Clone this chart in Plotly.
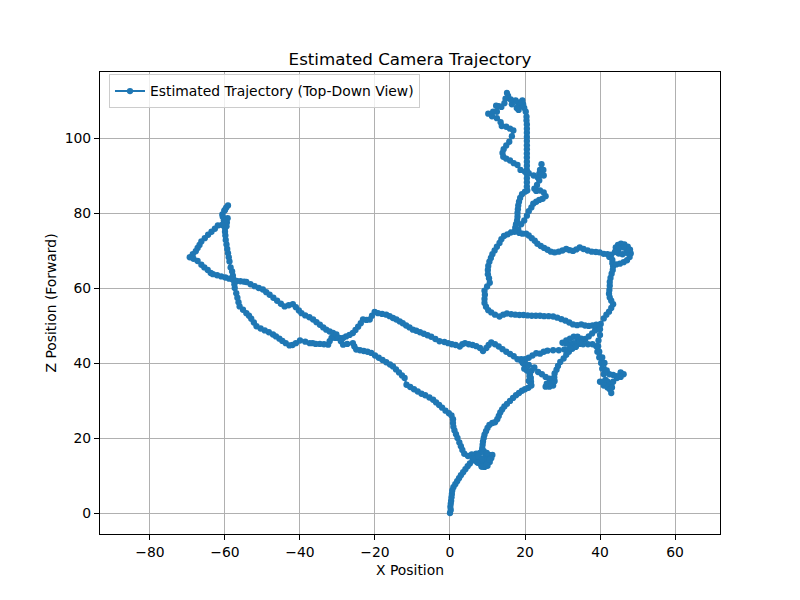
import plotly.graph_objects as go

TITLE = "Estimated Camera Trajectory"
X_LABEL = "X Position"
Z_LABEL = "Z Position (Forward)"
SERIES = "Estimated Trajectory (Top-Down View)"
X_TICKS = [-80, -60, -40, -20, 0, 20, 40, 60]
Z_TICKS = [0, 20, 40, 60, 80, 100]

start_leg = [(0,0),(0.2,0.8),(0.1,1.6),(0.2,2.5),(0.3,3.3),(0.4,4.2),(0.5,5.1),(0.6,6),(0.9,6.9),(1.4,7.7),(1.9,8.5),(2.4,9.3),(2.9,10.1),(3.5,10.9),(4.1,11.7),(4.7,12.5),(5.3,13.2),(6,14),
 (7,14.5),(8,13.5),(9,12.7),(8.5,14),(9.5,15),(10.5,15.5),(11.3,15.5),(10.3,14.5),(9.6,13.5),(9.2,12.3),(8.2,13),(7.6,14.5),(8,16),(9,16.5),(9.5,15.5),(8.8,14.5),(7,15.8),(6.2,15),(7.2,13.6),(8.4,12.4),(10,12.6),(10.6,13.6),(11,14.6),(9.8,16),(8.5,16.5)]
to_junction = [(8.6,17.3),(8.7,18.2),(8.8,19.1),(9,20),(9.2,20.9),(9.6,21.8),(10,22.7),(10.5,23.5),(11.3,24),(12,24.2),(12.6,25),(13,25.9),(13.4,26.8),(13.9,27.6),(14.5,28.4),(15.2,29.1),(16,29.9),(16.8,30.7),(17.6,31.4),(18.4,32),(19.2,32.6),(20,33),(20.9,33.4),(21.7,34),(21.6,35),(21.5,36),(21.3,37),(21.8,38),
 (21.2,36.5),(21,35.2),(21.6,34.2),(21.5,36),(21.2,37.5),(20.5,38),(19.8,38.5),(19.4,40),(19,41),(20,40),(21,39.5),(22.5,38.8),(23.5,37.6),(24.5,37),(25.5,36.3),(26.5,35.8),(27.3,35.7),(27.7,35),(27.5,34),(26.5,33.7),(25.5,33.7),(25.8,34.5),(27,34.5),(27.9,35.2),(27.8,36.2),(27.9,37.2),(28.4,38.2),(28.8,39.2),(29.4,40.3),(30.3,41.2),(31,42.2),(31.7,43),(32.6,43.8),(33.6,44.5),(34.5,45.1),(35.3,45.8),(36.1,46.4),(37,47.1),(37.9,47.9),(38.7,48.7),(39.5,49.4),(40.2,50.4)]
up_to_loop = [(41,51.9),(41.7,52.9),(42.4,53.7),(43,54.7),(43.5,55.7),(43,56.6),(42.6,57.5),(42.4,58.5),(42.5,59.5),(42.6,60.6),(42.6,61.6),(42.8,62.7),(43.1,63.8),(43.4,64.8),(43.5,65.8),
 (43.3,66.6),(44.3,66.3),(45.3,66.5),(46.3,66.9),(47.2,67.4),(47.9,68.3),(48.2,69.2),(48,70.2),(47.4,71),(46.5,71.6),(45.6,71.8),(44.8,71.5),(44.2,70.8),(44.2,69.8),(45,69.2),(46,69),(47,69.4),(47.4,70.2),(46.3,70.8),(45,70.5),(44,69.6),(43,68.9),(42.5,68.3),(43.3,67.5),(42,69)]
loop_to_left = [(41,69.1),(39.9,69.5),(38.9,69.6),(37.8,69.7),(36.7,70),(35.6,70.4),(34.6,70.8),(33.7,70.3),(32.8,69.9),(31.9,70.1),(31,70.4),(30,70),(29,69.7),(27.9,69.5),(26.9,69.7),(26,70.2),(25.1,70.7),(24.2,71.2),(23.3,71.8),(22.6,72.6),(21.8,73.3),(21,74),(20.3,74.5),(19.3,74.5),(18.5,74.7),(17.8,75.2),(17.4,76.1),
 (17.6,77),(17.9,78),(18,79),(18,80),(18.1,81),(18.2,82),(18.4,83),(18.7,84),(19.2,85),(20,85.7),(20.6,86)]
vertical = [(20.5,87.1),(20.5,88.2),(20.5,89.3),(20.5,90.4),(20.5,91.5),(20.5,92.6),(20.5,93.7),(20.5,94.8),(20.5,95.9),(20.5,97),(20.5,98.1),(20.5,99.2),(20.5,100.3),(20.5,101.4),(20.5,102.5),(20.5,103.6),(20.4,104.7),(20.4,105.7),(20.2,107),(19.8,108),(19.5,109),(19.3,110),(19,108.5),(18.3,107.5),(18.5,109.5),(17.8,108),(17.5,110),(16.5,109),(16.2,110.3),(15.5,111.2),(15.2,112),(14.8,110.5),(14.5,109.3),(13.7,108.3),(13,108.5),(12.3,108.6),(12.5,107),(11.5,107),(10.2,106.5),(11.2,105.8),(12.5,105.3),(13.5,104.2),(13.8,103.2),(15,103),(16,102.5),(16.9,102),(16.5,100.5),(15.8,99),(15,98),(14.3,97),(14,96),(14.2,95),(15,94.5),(16,94),(17,93.3),(18,92.8),(18.8,91.5),(20,91),(21,90.6),(22.3,90),(23.4,89.5),(23.8,90.5),(24,91.5),(24.4,93),(24.9,91.5),(25,90),(24.3,90.2),(23.8,88.7),(23.2,87.5),(22.5,86.5)]
hook_back = [(23,85.9),(24,86),(25,85.5),(25.5,84.5),(24.7,83.8),(23.8,83.5),(23,83),(22.2,82.5),(21.7,81.5),(21,80.5),(20.5,79.3),(19.8,78),(19,77),(18.2,75.6),(17.2,75),(16.2,74.8),(15.3,74.3),(14.4,73.9),(13.7,73),(13.2,72),(12.5,71),(11.9,70),(11.3,69),(10.9,68),(10.5,67),(10.2,65.9),(10.1,64.8),(10.1,63.7),(10.4,62.6),(10.6,61.4),(9.9,60.4),(9.2,59.3),(9.3,58.2),(9.2,57.1),(9.2,56),(9.6,55),(10.2,54.1),(11,53.5),(12,52.9),(13.2,52.4),(14.2,52.9),(15.2,53.2),(16.3,53),(17.4,52.9),(18.5,52.8),(19.6,52.8),(20.7,52.7),(21.8,52.6),(22.9,52.6),(24,52.6),(25.1,52.5),(26.3,52.5),(27.5,52.4),(28.6,52.1),(29.7,51.7),(30.8,51.3),(31.8,50.8),(32.8,50.3),(33.9,50.1),(35,50.3),(36,50),(37,49.9),(38,50),(39,50.2),(39.8,49.8)]
right_cluster = [(40,49),(40,47.5),(39.6,46),(39.5,44.5),(39.3,43),(39.8,41.5),(40.3,40),(40.6,38.5),(41,37),(41.5,35.5),(42,35),(43,34.5),(42,33.8),(40.8,35),(40,35),(41,34),(42,33.5),(42.6,33),(43,32),(43.2,33.5),(43.5,35),(44.5,36),(45.5,37.5),(46.3,37),(45.5,36.3),(44.5,36.5),(43.5,36.8),(42.5,37),(41.8,38),(41.2,40),(40.6,41.5),(39.8,43),(39,44.5),(38,45),(36.8,45),(35.5,45),(34.5,45.5)]
small_hook = [(34,45.8),(33,45.3),(32,45),(31,45.2),(30,45.4),(31,46),(32,46.5),(33,47),(34,47),(35,46.5),(34.5,45.5),(33.5,44.3),(32,44),(30.5,43.6),(29,43.4),(27.5,43.4),(26,43.3),(25,43),(24,42.5),(23,42.6),(22,42),(21,41.4),(20,41),(19,40.6)]
to_origin_side = [(18,41),(17,41.8),(16,42.4),(15,43),(14,43.7),(13,44.4),(12,45),(11,45.5),(10.3,44.8),(9.7,44),(8.8,43.2),(8,44),(7,44.5),(6,44.8),(5,45),(4,45.3),(3.3,45),(2.6,44.4),(1.5,44.8),(0.5,45),(-0.5,45.3),(-1.5,45.6),(-2.8,45.8),(-3.9,46.4),(-5,47),(-6,47.4),(-7,47.8),(-8,48.2),(-9,48.6),(-9.9,48.9),(-10.8,49.5),(-11.7,50),(-12.6,50.6),(-13.4,51.1),(-14.3,51.6),(-15.2,52),(-16.1,52.5),(-17,52.9),(-18.1,53.1),(-19.2,53.3),(-20.1,53.6),(-20.8,52.6),(-21.4,51.6),(-22.3,51.5),(-23.2,51.6),(-23.8,50.6),(-24.5,49.7),(-25.2,48.8),(-25.9,48),(-26.8,47.5),(-27.7,47.1),(-28.5,46.7),(-29.5,46.7),(-30.6,46.7),(-31.6,46.7),(-32.1,45.8),(-32.5,44.9),(-33.6,45),(-34.7,45.1),(-35.8,45.1),(-36.6,45.3),(-37.4,45.3),(-38.6,45.7),(-40,46),(-41.1,45.3),(-42,44.8),(-42.8,44.7),(-43.8,45.3),(-44.7,45.9),(-45.5,46.5),(-46.4,47.1),(-47.2,47.6),(-48.3,48.2),(-49.4,48.7),(-50.5,49.2),(-51.6,49.8),(-52.3,50.8),(-53,51.8),(-53.6,52.6),(-54.3,53.3),(-55.2,54.2),(-56.1,55.1),(-56.4,56.2),(-56.7,57.4),(-57,58.6),(-57.4,60),(-57.5,61),(-57.7,62.2),(-57.9,63.3),(-58.1,64.4),(-58.5,65.5),(-58.8,67.1),(-59,68.2),(-59.2,69.3),(-59.4,70.4),(-59.6,71.6),(-59.8,72.8),(-59.9,74),(-60,75),(-60,76)]
far_left = [(-60.3,77),(-59.5,77.5),(-59.3,78.6),(-60.3,78),(-60.7,79.6),(-60.2,80.6),(-59.7,81.4),(-59.2,82),(-60,80.8),(-60.6,79),(-60,77.8),(-59.6,76.5),(-60.8,76.8),(-61.9,76.7),(-62.7,75.8),(-63.6,75),(-64.5,74.2),(-65.4,73.3),(-66.3,72.4),(-66.8,71.5),(-67.3,70.7),(-67.8,69.8),(-68.6,69),(-69.4,68.2),(-68.4,67.8),(-67.3,67.2),(-66.3,66.2),(-65.5,65.5),(-64.6,64.8),(-63.8,64),(-63.2,63.7),(-62.1,63.4),(-61,63.1),(-59.9,62.8),(-58.9,62.5),(-57.9,62.2),(-56.9,61.9),(-55.9,61.8),(-54.9,61.7),(-54.3,61.6),(-53.2,61),(-52.1,60.5),(-51,60),(-49.9,59.6),(-49,58.9),(-48.1,58.2),(-47.1,57.4),(-46.1,56.6),(-45.1,55.8),(-44.1,55.1),(-43,55.4),(-41.9,55.7),(-41.1,54.9),(-40.3,54),(-39.6,53.3),(-38.6,52.7),(-37.5,52.2),(-36.5,51.6),(-35.6,50.9),(-34.7,50.2),(-33.8,49.5),(-33,48.9),(-32.1,48.4),(-31.2,48),(-30.3,47.6),(-29.8,46.7),(-29.1,45.8),(-28.5,44.9),(-27.4,45.1),(-25.9,45.3),(-25.5,44.4),(-25,43.6),(-24,43.4),(-23,43.2),(-22,43),(-21,42.7),(-20,42),(-19,41.4),(-18,40.8),(-17,40.2),(-16,39.6),(-15.2,39.1),(-14.4,38.3),(-13.6,37.5),(-12.8,36.7),(-12.1,36),(-11.6,34.2),(-10.6,33.6),(-9.6,33),(-8.6,32.4),(-7.6,31.8),(-6.6,31.4),(-5.5,30.8),(-4.5,30.2),(-3.7,29.5),(-2.9,28.8),(-2.1,28.1),(-1.2,27.3),(-0.3,26.6),(0.4,26),(0.8,25),(0.8,24),(0.9,23),(1.2,22),(1.6,21),(2,20),(2.5,18.8),(2.9,17.8),(3.3,16.8),(3.8,15.8),(4.8,15.2),(5.8,15.6),(6.4,14.6),(7.5,15.2),(8.5,14.2),(7.4,13.4),(8.6,12.4),(9.8,13),(10.5,14.2)]

segments = [start_leg, to_junction, up_to_loop, loop_to_left, vertical, hook_back,
            right_cluster, small_hook, to_origin_side, far_left]
x_values = [p[0] for seg in segments for p in seg]
z_values = [p[1] for seg in segments for p in seg]

BLUE = "#1f77b4"
fig = go.Figure(go.Scatter(
    x=x_values, y=z_values, mode="lines+markers", name=SERIES,
    line=dict(color=BLUE, width=2.08),
    marker=dict(color=BLUE, size=6.3, line=dict(width=0)),
))

axis = dict(
    showgrid=True, gridcolor="#b0b0b0", gridwidth=1.1, zeroline=False,
    showline=True, linecolor="black", linewidth=1.1, mirror=True,
    ticks="outside", ticklen=5, tickwidth=1.1, tickcolor="black",
    tickfont=dict(size=13.9, color="black"),
)
fig.update_layout(
    width=784, height=584, autosize=False,
    paper_bgcolor="white", plot_bgcolor="white",
    font=dict(family="DejaVu Sans", color="black", size=13.9),
    margin=dict(l=92, r=72, t=64, b=58, pad=0),
    title=dict(text=TITLE, x=402/784, xanchor="center", y=1-51/584, yanchor="middle",
               font=dict(size=16.7, color="black")),
    xaxis=dict(axis, range=[-93.33, 72.0], tickvals=X_TICKS,
               title=dict(text=X_LABEL, standoff=6, font=dict(size=13.9))),
    yaxis=dict(axis, range=[-5.6, 117.6], tickvals=Z_TICKS,
               title=dict(text=Z_LABEL, standoff=4, font=dict(size=13.9))),
    showlegend=True,
    legend=dict(x=0.0145, y=0.9946, xanchor="left", yanchor="top",
                bgcolor="rgba(255,255,255,0.8)", bordercolor="#cccccc", borderwidth=1,
                font=dict(size=13.9, color="black")),
)
fig.write_html("out.html")
